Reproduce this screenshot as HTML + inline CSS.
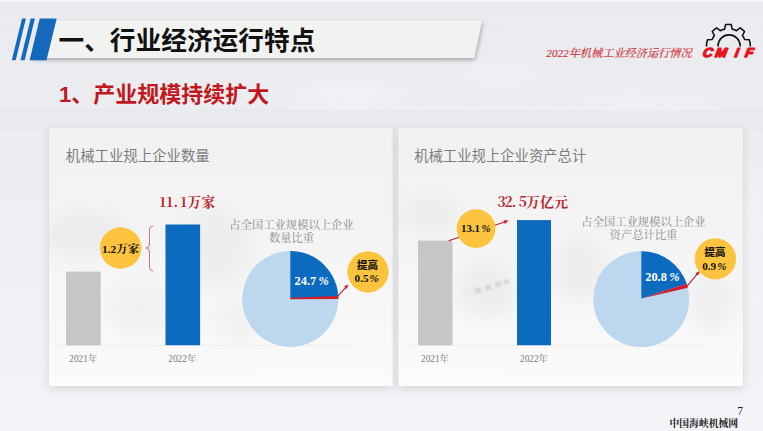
<!DOCTYPE html>
<html lang="zh-CN">
<head>
<meta charset="utf-8">
<title>2022年机械工业经济运行情况</title>
<style>
  html, body { margin: 0; padding: 0; background: #eef0f3; }
  body { width: 763px; height: 431px; overflow: hidden; }
  svg { display: block; }
  .sans { font-family: "Liberation Sans", "Noto Sans CJK SC", sans-serif; }
  .serif { font-family: "Liberation Serif", "Noto Serif CJK SC", serif; }
  .song { font-family: "Noto Serif CJK SC", "Liberation Serif", serif; }
</style>
</head>
<body>
<svg width="763" height="431" viewBox="0 0 763 431">
  <defs>
    <linearGradient id="bg" x1="0" y1="0" x2="0" y2="1">
      <stop offset="0" stop-color="#e9ebef"/>
      <stop offset="0.3" stop-color="#ebedf1"/>
      <stop offset="0.85" stop-color="#f1f2f5"/>
      <stop offset="1" stop-color="#f3f4f7"/>
    </linearGradient>
    <linearGradient id="pn" x1="0" y1="0" x2="0" y2="1">
      <stop offset="0" stop-color="#f1f1f1"/>
      <stop offset="0.3" stop-color="#f3f3f3"/>
      <stop offset="0.8" stop-color="#f8f8f8"/>
      <stop offset="1" stop-color="#fbfbfb"/>
    </linearGradient>
    <filter id="blur8" x="-50%" y="-50%" width="200%" height="200%"><feGaussianBlur stdDeviation="8"/></filter>
    <filter id="blur1" x="-50%" y="-50%" width="200%" height="200%"><feGaussianBlur stdDeviation="1.3"/></filter>
    <filter id="blur4" x="-50%" y="-50%" width="200%" height="200%"><feGaussianBlur stdDeviation="4"/></filter>
    <clipPath id="cp1"><rect x="49" y="128" width="343" height="258"/></clipPath>
    <clipPath id="cp2"><rect x="399" y="128" width="344" height="258"/></clipPath>
    <filter id="sh" x="-10%" y="-10%" width="120%" height="125%">
      <feGaussianBlur in="SourceAlpha" stdDeviation="5"/>
      <feOffset dx="0" dy="2" result="b"/>
      <feComponentTransfer><feFuncA type="linear" slope="0.14"/></feComponentTransfer>
      <feMerge><feMergeNode/><feMergeNode in="SourceGraphic"/></feMerge>
    </filter>
    <filter id="sh2" x="-5%" y="-30%" width="110%" height="170%">
      <feGaussianBlur in="SourceAlpha" stdDeviation="2"/>
      <feOffset dx="1" dy="2" result="b"/>
      <feComponentTransfer><feFuncA type="linear" slope="0.3"/></feComponentTransfer>
      <feMerge><feMergeNode/><feMergeNode in="SourceGraphic"/></feMerge>
    </filter>
  </defs>

  <!-- background -->
  <rect x="0" y="0" width="763" height="431" fill="url(#bg)"/>
  <rect x="0" y="0" width="763" height="1.5" fill="#f6f7f9"/>
  <!-- faint backdrop texture -->
  <rect x="0" y="109" width="763" height="22" fill="#e5e7eb" opacity="0.55"/>
  <line x1="290" y1="108.5" x2="722" y2="108.5" stroke="#f3f4f7" stroke-width="1" opacity="0.9"/>
  <g filter="url(#blur8)" opacity="0.55">
    <ellipse cx="350" cy="95" rx="60" ry="14" fill="#f4f5f8"/>
    <ellipse cx="500" cy="75" rx="40" ry="18" fill="#f2f3f6"/>
    <ellipse cx="640" cy="100" rx="70" ry="12" fill="#f2f3f6"/>
    <ellipse cx="752" cy="250" rx="8" ry="90" fill="#f5f6f8"/>
  </g>

  <!-- title banner -->
  <polygon points="40,20.6 482,20.6 474,58 32,58" fill="#f2f2f0" filter="url(#sh2)"/>
  <!-- blue stripes -->
  <polygon points="22,18.6 25.9,18.6 15.7,60.3 11.8,60.3" fill="#1469bc"/>
  <polygon points="30.7,18.6 34.9,18.6 24.7,60.3 20.5,60.3" fill="#1469bc"/>
  <polygon points="39.8,18.6 56.7,18.6 46.5,60.3 29.6,60.3" fill="#1469bc"/>

  <text class="sans" x="58.5" y="50" font-size="25.7" font-weight="bold" fill="#111">一、行业经济运行特点</text>
  <text class="sans" x="59" y="102" font-size="22" font-weight="bold" fill="#c2171d">1、产业规模持续扩大</text>

  <!-- header right -->
  <text class="serif" x="546.3" y="56.9" font-size="11.2" font-style="italic" fill="#d0303a" stroke="#d0303a" stroke-width="0.15">2022年机械工业经济运行情况</text>

  <!-- logo -->
  <g fill="none" stroke="#111" stroke-width="1.55" stroke-linejoin="round" stroke-linecap="round">
    <path d="M706.50,45.90 A21.9,21.9 0 0 1 707.51,39.71 L712.14,39.56 A17.6,17.6 0 0 1 714.44,35.59 L712.25,31.50 A21.9,21.9 0 0 1 716.63,27.83 L720.27,30.69 A17.6,17.6 0 0 1 724.59,29.12 L725.54,24.59 A21.9,21.9 0 0 1 731.26,24.59 L732.21,29.12 A17.6,17.6 0 0 1 736.53,30.69 L740.17,27.83 A21.9,21.9 0 0 1 744.55,31.50 L742.36,35.59 A17.6,17.6 0 0 1 744.66,39.56 L749.29,39.71 A21.9,21.9 0 0 1 750.30,45.90"/>
    <path d="M718,46 A11.1,11.1 0 0 1 740.2,46"/>
  </g>
  <g transform="translate(0,56.6) skewX(-10) scale(1.06,1)">
    <text class="sans" x="662.6 674.2 692.8 702.4" y="0" font-size="13" font-weight="bold" font-style="italic" fill="#e8151c" stroke="#e8151c" stroke-width="1.35" stroke-linejoin="round">CMIF</text>
  </g>

  <!-- panels -->
  <rect x="49" y="127.8" width="343.5" height="258.2" fill="url(#pn)" filter="url(#sh)"/>
  <rect x="398.6" y="127.8" width="344.2" height="258.2" fill="url(#pn)" filter="url(#sh)"/>
  <g clip-path="url(#cp1)" filter="url(#blur8)" opacity="0.42">
    <ellipse cx="85" cy="235" rx="45" ry="22" fill="#e2e2e2"/>
    <ellipse cx="215" cy="250" rx="40" ry="40" fill="#e6e6e6"/>
    <ellipse cx="140" cy="310" rx="30" ry="25" fill="#e8e8e8"/>
    <ellipse cx="240" cy="320" rx="25" ry="20" fill="#e9e9e9"/>
  </g>
  <g clip-path="url(#cp2)" filter="url(#blur8)" opacity="0.45">
    <ellipse cx="430" cy="215" rx="30" ry="16" fill="#e4e4e4"/>
    <ellipse cx="487" cy="290" rx="30" ry="28" fill="#e3e3e3"/>
    <ellipse cx="580" cy="270" rx="28" ry="30" fill="#e4e4e4"/>
    <ellipse cx="712" cy="300" rx="22" ry="30" fill="#e6e6e6"/>
  </g>

  <g filter="url(#blur1)" fill="#cfcfcf" opacity="0.8">
    <rect x="475" y="288" width="6" height="5" transform="rotate(-15 478 290)"/>
    <rect x="485" y="285" width="6" height="5" transform="rotate(-15 488 287)"/>
    <rect x="495" y="282" width="6" height="5" transform="rotate(-15 498 284)"/>
    <rect x="504" y="279.5" width="5" height="4.5" transform="rotate(-15 506 282)"/>
  </g>

  <!-- ===== left panel ===== -->
  <text class="sans" x="65.8" y="161" font-size="14.4" fill="#7c7c7c">机械工业规上企业数量</text>
  <line x1="56" y1="345.5" x2="354" y2="345.5" stroke="#ededed" stroke-width="1"/>
  <rect x="66" y="271.6" width="34.7" height="73.6" fill="#c6c6c6"/>
  <rect x="165.5" y="224.5" width="34.6" height="120.7" fill="#0d6bbf"/>
  <text class="song" x="159.5 166.5 173.5 180.5 187.5 201.5" y="206.6" font-size="13.6" font-weight="bold" fill="#b8282e">11.1万家</text>
  <circle cx="120.6" cy="248" r="20.7" fill="#fcc43e"/>
  <text class="serif" x="120.6" y="252.5" font-size="11.4" font-weight="bold" fill="#111" text-anchor="middle">1.2万家</text>
  <path d="M153,226 Q149.5,226 149.5,230 L149.5,244 Q149.5,248 146,248 Q149.5,248 149.5,252 L149.5,267 Q149.5,271 153,271" fill="none" stroke="#dc4a4e" stroke-width="0.8"/>
  <text class="serif" x="69.3" y="362.3" font-size="9.3" fill="#7a7a7a">2021年</text>
  <text class="serif" x="168.3" y="362.3" font-size="9.3" fill="#7a7a7a">2022年</text>

  <text class="serif" x="291.5" y="228.5" font-size="11.3" fill="#8a8a8a" text-anchor="middle">占全国工业规模以上企业</text>
  <text class="serif" x="291.5" y="242" font-size="11.3" fill="#8a8a8a" text-anchor="middle">数量比重</text>
  <circle cx="290.3" cy="299" r="48" fill="#bdd7ee"/>
  <path d="M290.3,298.5 L290.3,251 A48,48 0 0 1 338.3,298.5 Z" fill="#0d6bbf"/>
  <path d="M290.3,297.8 L338.2,295.9 L338.3,299.1 L290.3,299.3 Z" fill="#d41c2a"/>
  <line x1="337.8" y1="296.2" x2="345.8" y2="287.3" stroke="#c21a25" stroke-width="1.05"/>
  <polygon points="348.3,284.6 346.9,288.9 344.1,286.3" fill="#c21a25"/>
  <text class="serif" x="294.6" y="285" font-size="12.4" font-weight="bold" fill="#fff">24.7<tspan x="318.6" font-style="italic">%</tspan></text>
  <circle cx="368" cy="271.9" r="20.6" fill="#fcc43e"/>
  <text class="sans" x="367.6" y="268.6" font-size="10.5" font-weight="bold" fill="#151515" stroke="#151515" stroke-width="0.2" text-anchor="middle">提高</text>
  <text class="serif" x="354.6" y="281.6" font-size="11.2" font-weight="bold" fill="#111">0.5<tspan x="369.6" font-style="italic">%</tspan></text>

  <!-- ===== right panel ===== -->
  <text class="sans" x="414.2" y="161" font-size="14.35" fill="#7c7c7c">机械工业规上企业资产总计</text>
  <line x1="406" y1="345.5" x2="705" y2="345.5" stroke="#ededed" stroke-width="1"/>
  <rect x="418" y="240.6" width="34.5" height="104.6" fill="#c6c6c6"/>
  <rect x="517" y="220.1" width="34" height="125.1" fill="#0d6bbf"/>
  <text class="song" x="497.5 504.6 511.7 518.8 525.9 540.1 554.3" y="206.6" font-size="13.8" font-weight="bold" fill="#b8282e">32.5万亿元</text>
  <line x1="448.6" y1="240.7" x2="504.5" y2="222" stroke="#c21a25" stroke-width="1.05"/>
  <polygon points="508.7,220.6 504.8,224 503.6,220.2" fill="#c21a25"/>
  <circle cx="476.1" cy="228.6" r="19.4" fill="#fcc43e"/>
  <text class="serif" x="461" y="232.3" font-size="10.9" font-weight="bold" fill="#111">13.1<tspan x="481.4" font-style="italic">%</tspan></text>
  <text class="serif" x="421" y="362.3" font-size="9.3" fill="#7a7a7a">2021年</text>
  <text class="serif" x="520" y="362.3" font-size="9.3" fill="#7a7a7a">2022年</text>

  <text class="serif" x="643.5" y="225.5" font-size="11.3" fill="#8a8a8a" text-anchor="middle">占全国工业规模以上企业</text>
  <text class="serif" x="643.5" y="239.2" font-size="11.3" fill="#8a8a8a" text-anchor="middle">资产总计比重</text>
  <circle cx="641.2" cy="299.2" r="47.9" fill="#bdd7ee"/>
  <path d="M641.4,298.6 L641.4,251.3 A47.7,47.7 0 0 1 686.77,283.86 Z" fill="#0d6bbf"/>
  <path d="M641.4,298.6 L686.77,283.86 A47.7,47.7 0 0 1 687.88,287.87 Z" fill="#d41c2a"/>
  <line x1="687.3" y1="285.9" x2="697.1" y2="274.2" stroke="#c21a25" stroke-width="1.05"/>
  <polygon points="699.7,271.1 698.3,275.6 695.5,273.2" fill="#c21a25"/>
  <text class="serif" x="645.2" y="280.8" font-size="12.4" font-weight="bold" fill="#fff">20.8<tspan x="669.3" font-style="italic">%</tspan></text>
  <circle cx="715.4" cy="258.8" r="20.6" fill="#fcc43e"/>
  <text class="sans" x="715.1" y="256.4" font-size="10.5" font-weight="bold" fill="#151515" stroke="#151515" stroke-width="0.2" text-anchor="middle">提高</text>
  <text class="serif" x="702.2" y="269.7" font-size="11.2" font-weight="bold" fill="#111">0.9<tspan x="717.2" font-style="italic">%</tspan></text>

  <!-- footer -->
  <text class="serif" x="737.3" y="414.8" font-size="11.5" fill="#222">7</text>
  <text class="song" x="669.5" y="427.2" font-size="9.8" font-weight="bold" fill="#1a1a1a">中国海峡机械网</text>
</svg>
</body>
</html>
